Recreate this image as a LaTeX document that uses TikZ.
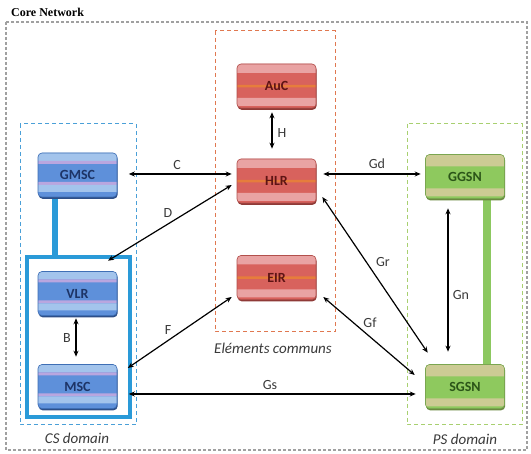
\documentclass[tikz,border=0pt]{standalone}
\usepackage{fontspec}
\setmainfont{Carlito}
\newfontfamily\titlefont{Liberation Serif}
\usetikzlibrary{arrows.meta,calc,shadows}
\pgfdeclarelayer{background}
\pgfsetlayers{background,main}

% palette
\definecolor{cslight}{HTML}{A3C4EC}
\definecolor{csstripe}{HTML}{B9A6DF}
\definecolor{csmain}{HTML}{5E90DA}
\definecolor{csborder}{HTML}{3F6FB5}
\definecolor{csshadow}{HTML}{2E4F88}
\definecolor{cstext}{HTML}{1D3466}
\definecolor{csframe}{HTML}{2A9AD8}
\definecolor{csdash}{HTML}{4AA0D8}
\definecolor{celight}{HTML}{E9A3A3}
\definecolor{cemain}{HTML}{D8625D}
\definecolor{cestripe}{HTML}{E67D3C}
\definecolor{ceborder}{HTML}{B2504C}
\definecolor{ceshadow}{HTML}{8F3A37}
\definecolor{cetext}{HTML}{5E1414}
\definecolor{cedash}{HTML}{E07850}
\definecolor{pslight}{HTML}{CCCB94}
\definecolor{psmain}{HTML}{8EC95E}
\definecolor{psborder}{HTML}{7AA650}
\definecolor{psshadow}{HTML}{6A8A40}
\definecolor{pstext}{HTML}{2B5518}
\definecolor{psdash}{HTML}{A8D070}
\definecolor{psbar}{HTML}{8CC860}
\definecolor{coredash}{HTML}{A0A0A0}
\definecolor{labelgrey}{HTML}{3A3A3A}

% horizontal colour band inside a node (y offsets from the centre, downwards)
\newcommand\hband[3]{%
  \fill[#1] ($(path picture bounding box.center)+(-45,#2)$) rectangle
            ($(path picture bounding box.center)+(45,#3)$);}

\tikzset{
  elem/.style={rounded corners=4pt, minimum width=79pt, minimum height=44pt,
    inner sep=0pt, line width=0.6pt, font=\fontsize{14}{16}\selectfont\bfseries},
  csnode/.style={elem, draw=csborder, text=cstext,
    drop shadow={shadow xshift=0.6pt, shadow yshift=-1.8pt, fill=csshadow, opacity=1},
    path picture={
      \fill[csmain] (path picture bounding box.south west) rectangle (path picture bounding box.north east);
      \hband{cslight}{-22}{-14}\hband{csstripe}{-14}{-11}
      \hband{csstripe}{7}{10}\hband{cslight}{10}{17}}},
  cenode/.style={elem, draw=ceborder, text=cetext,
    drop shadow={shadow xshift=0.6pt, shadow yshift=-1.8pt, fill=ceshadow, opacity=1},
    path picture={
      \fill[cemain] (path picture bounding box.south west) rectangle (path picture bounding box.north east);
      \hband{celight}{-22}{-13}\hband{cestripe}{-1}{1.5}
      \hband{celight}{12}{20}}},
  psnode/.style={elem, draw=psborder, text=pstext,
    drop shadow={shadow xshift=0.6pt, shadow yshift=-1.8pt, fill=psshadow, opacity=1},
    path picture={
      \fill[psmain] (path picture bounding box.south west) rectangle (path picture bounding box.north east);
      \hband{pslight}{-22}{-10}\hband{pslight}{12}{20}}},
  link/.style={{Stealth[length=6pt,width=5pt]}-{Stealth[length=6pt,width=5pt]}, line width=1.2pt, black},
  lbl/.style={font=\fontsize{14}{16}\selectfont, text=labelgrey, inner sep=0pt},
  domlbl/.style={font=\fontsize{15}{17}\selectfont\itshape, text=labelgrey, inner sep=0pt},
  zone/.style={dashed, dash pattern=on 4pt off 3pt, line width=1pt},
}

\begin{document}
\begin{tikzpicture}[x=1pt, y=-1pt]
  \useasboundingbox (0,0) rectangle (531,454);
  \begin{pgfonlayer}{background}
    \fill[white] (0,0) rectangle (531,454);
  \end{pgfonlayer}

  % title and core network frame
  \node[anchor=base west, inner sep=0pt, font=\titlefont\bfseries\fontsize{12}{14}\selectfont] (title) at (11,17) {Core Network};
  \draw[coredash, line width=1.5pt, dash pattern=on 3pt off 2pt] (6,22) rectangle (527,450);

  % domain frames
  \draw[zone, csdash] (20,124) rectangle (136,425);
  \draw[zone, cedash] (215,31) rectangle (335,332);
  \draw[zone, psdash] (407,124) rectangle (522,425);

  % CS domain inner frame
  \node[draw=csframe, line width=4pt, minimum width=103pt, minimum height=160pt, inner sep=0pt] (csinner) at (78.5,337) {};

  % network elements
  \node[csnode] (GMSC) at (77.5,175) {GMSC};
  \node[csnode] (VLR)  at (77.5,293.5) {VLR};
  \node[csnode] (MSC)  at (77.5,386.5) {MSC};
  \node[cenode] (AuC)  at (276.5,86) {AuC};
  \node[cenode] (HLR)  at (276.5,181) {HLR};
  \node[cenode] (EIR)  at (276.5,277.5) {EIR};
  \node[psnode] (GGSN) at (465,176.5) {GGSN};
  \node[psnode] (SGSN) at (465,386.5) {SGSN};

  % solid bars joining elements of a domain
  \begin{pgfonlayer}{background}
    \draw[csframe, line width=6pt] ([xshift=-22.5pt]GMSC.south) -- ([xshift=-22.5pt]GMSC.south |- csinner.north);
    \draw[psbar, line width=8pt] ([xshift=22pt]GGSN.south) -- ([xshift=22pt]SGSN.north);
  \end{pgfonlayer}

  % interfaces
  \draw[link] ($(GMSC.east)+(11.5,-1)$) -- ($(HLR.west)+(-5,-7)$);
  \draw[link] ($(HLR.east)+(7,-7)$) -- ($(GGSN.west)+(-4.5,-2.5)$);
  \draw[link] ($(HLR.west)+(-5,4)$) -- ($(VLR.north)+(30.5,-10.5)$);
  \draw[link] ($(EIR.west)+(-5,19.5)$) -- ($(MSC.east)+(10.5,-18.5)$);
  \draw[link] ($(MSC.east)+(11.5,7.5)$) -- ($(SGSN.west)+(-9.5,7.5)$);
  \draw[link] ($(HLR.east)+(6,16)$) -- ($(SGSN.north west)+(2.5,-11.5)$);
  \draw[link] ($(EIR.east)+(7,19.5)$) -- ($(SGSN.west)+(-10.5,-11.5)$);
  \draw[link] ($(GGSN.south)+(-17,9.5)$) -- ($(SGSN.north)+(-17,-12.5)$);
  \draw[link] ($(AuC.south)+(-4.5,4)$) -- ($(HLR.north)+(-4.5,-10)$);
  \draw[link] ($(VLR.south)+(-1.5,2.5)$) -- ($(MSC.north)+(-1.5,-7.5)$);

  % interface names
  \node[lbl] (lC)  at (177,165) {C};
  \node[lbl] (lGd) at (377,164) {Gd};
  \node[lbl] (lD)  at (168,213) {D};
  \node[lbl] (lF)  at (168,330) {F};
  \node[lbl] (lGs) at (270,385) {Gs};
  \node[lbl] (lGr) at (383,262) {Gr};
  \node[lbl] (lGf) at (370,323) {Gf};
  \node[lbl] (lGn) at (461,295) {Gn};
  \node[lbl] (lH)  at (282,133) {H};
  \node[lbl] (lB)  at (67,338) {B};

  % domain names
  \node[domlbl] (cslabel) at (77,438) {CS domain};
  \node[domlbl] (celabel) at (273,348) {Eléments communs};
  \node[domlbl] (pslabel) at (465,439) {PS domain};
\end{tikzpicture}
\end{document}
